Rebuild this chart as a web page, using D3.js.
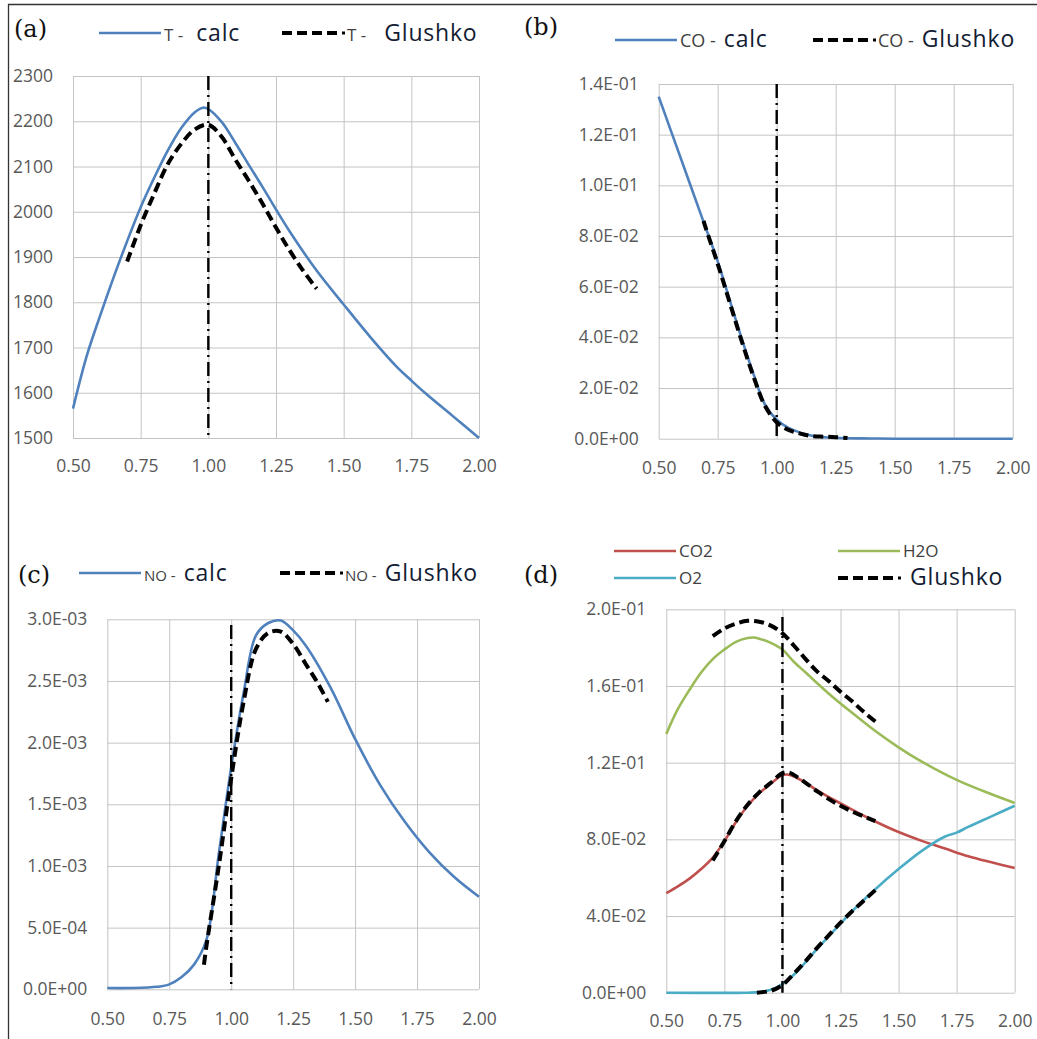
<!DOCTYPE html>
<html>
<head>
<meta charset="utf-8">
<script src="https://cdn.jsdelivr.net/npm/d3@7"></script>
<style>
  body { margin: 0; background: #fff; }
  svg { display: block; }
  .tick text { font-family: "Open Sans", sans-serif; font-size: 17.5px; fill: #595959; }
</style>
</head>
<body>
<script>
// shared x axis (equivalence ratio)
const xTicks = [0.5, 0.75, 1.0, 1.25, 1.5, 1.75, 2.0];

// (a) temperature
const tTicks = [1500, 1600, 1700, 1800, 1900, 2000, 2100, 2200, 2300];
const tCalc = [[0.5,1565],[0.55,1680],[0.6,1770],[0.65,1855],[0.7,1935],[0.75,2010],[0.8,2075],[0.85,2135],
  [0.9,2185],[0.95,2220],[0.98,2230],[1.0,2227],[1.05,2198],[1.1,2152],[1.15,2103],[1.2,2055],[1.25,2005],
  [1.3,1957],[1.4,1870],[1.5,1795],[1.6,1722],[1.7,1655],[1.75,1627],[1.8,1600],[1.9,1550],[2.0,1500]];
const tGlushko = [[0.7,1890],[0.75,1970],[0.8,2040],[0.85,2105],[0.9,2150],[0.95,2182],[1.0,2192],[1.05,2165],
  [1.1,2115],[1.15,2068],[1.2,2018],[1.25,1965],[1.3,1915],[1.35,1870],[1.4,1830]];

// (b) CO
const coTicks = [0, 0.02, 0.04, 0.06, 0.08, 0.10, 0.12, 0.14];
const coCalc = [[0.5,0.135],[0.55,0.122],[0.6,0.109],[0.65,0.096],[0.7,0.083],[0.75,0.070],[0.8,0.055],
  [0.85,0.040],[0.9,0.026],[0.95,0.0135],[1.0,0.0075],[1.05,0.0043],[1.1,0.0024],[1.15,0.0012],[1.2,0.0006],
  [1.3,0.0002],[1.4,0.0001],[1.5,0],[1.75,0],[2.0,0]];
const coGlushko = [[0.69,0.086],[0.7,0.083],[0.75,0.069],[0.8,0.054],[0.85,0.039],[0.9,0.025],[0.95,0.013],
  [1.0,0.0065],[1.05,0.0035],[1.1,0.002],[1.15,0.001],[1.2,0.0008],[1.25,0.0006],[1.3,0.0003]];

// (c) NO
const noTicks = [0, 0.0005, 0.001, 0.0015, 0.002, 0.0025, 0.003];
const noCalc = [[0.5,0.00001],[0.6,0.00001],[0.7,0.00002],[0.75,0.00004],[0.8,0.0001],[0.85,0.0002],
  [0.9,0.0004],[0.95,0.0011],[1.0,0.0018],[1.05,0.0024],[1.1,0.00287],[1.15,0.00297],[1.2,0.00299],
  [1.25,0.00291],[1.3,0.00279],[1.4,0.00245],[1.5,0.00203],[1.6,0.00166],[1.7,0.00136],[1.8,0.00111],
  [1.9,0.00091],[2.0,0.00075]];
const noGlushko = [[0.89,0.0002],[0.9,0.00035],[0.95,0.001],[1.0,0.00171],[1.05,0.00233],[1.1,0.00276],
  [1.15,0.00289],[1.2,0.0029],[1.25,0.0028],[1.3,0.00264],[1.35,0.00248],[1.39,0.00233]];

// (d) CO2, H2O, O2
const dTicks = [0, 0.04, 0.08, 0.12, 0.16, 0.20];
const co2Calc = [[0.5,0.052],[0.55,0.0555],[0.6,0.0595],[0.65,0.0645],[0.7,0.0705],[0.75,0.079],[0.8,0.089],
  [0.85,0.0975],[0.9,0.104],[0.95,0.109],[1.0,0.1135],[1.02,0.1138],[1.05,0.1128],[1.1,0.1095],[1.15,0.1055],
  [1.2,0.102],[1.25,0.0988],[1.3,0.0955],[1.4,0.0893],[1.5,0.0838],[1.6,0.0792],[1.7,0.0752],[1.8,0.0712],
  [1.9,0.068],[2.0,0.065]];
const h2oCalc = [[0.5,0.135],[0.55,0.148],[0.6,0.158],[0.65,0.167],[0.7,0.174],[0.75,0.179],[0.8,0.183],
  [0.85,0.185],[0.875,0.1853],[0.9,0.1847],[0.95,0.1825],[1.0,0.179],[1.05,0.1725],[1.1,0.167],[1.2,0.156],
  [1.3,0.146],[1.4,0.1365],[1.5,0.128],[1.6,0.1205],[1.75,0.111],[1.9,0.1035],[2.0,0.099]];
const o2Calc = [[0.5,0],[0.85,0],[0.9,0.0003],[0.95,0.0015],[1.0,0.0045],[1.05,0.0095],[1.1,0.016],
  [1.15,0.023],[1.2,0.0295],[1.25,0.036],[1.3,0.0425],[1.4,0.054],[1.5,0.0645],[1.6,0.074],[1.7,0.0815],
  [1.75,0.0835],[1.8,0.0865],[1.9,0.092],[2.0,0.0975]];
const h2oGlushko = [[0.7,0.186],[0.75,0.19],[0.8,0.1925],[0.85,0.194],[0.9,0.1935],[0.95,0.1915],[1.0,0.1875],
  [1.05,0.181],[1.1,0.174],[1.15,0.1675],[1.2,0.1625],[1.25,0.157],[1.3,0.152],[1.35,0.1465],[1.4,0.1415]];
const co2Glushko = [[0.7,0.069],[0.75,0.079],[0.8,0.0895],[0.85,0.098],[0.9,0.1045],[0.95,0.1095],[1.0,0.1145],
  [1.03,0.1148],[1.05,0.1135],[1.1,0.1095],[1.15,0.105],[1.2,0.101],[1.25,0.0975],[1.3,0.0945],[1.35,0.092],
  [1.4,0.0895]];
const o2Glushko = [[0.89,0],[0.95,0.001],[1.0,0.004],[1.05,0.01],[1.1,0.0165],[1.15,0.0235],[1.2,0.03],
  [1.25,0.0365],[1.3,0.0425],[1.35,0.048],[1.4,0.0535]];

const BLUE = '#4f81bd', RED = '#c0504d', GREEN = '#9bbb59', TEAL = '#4bacc6';

let fmtE = (v) => {
    let [m, e] = v.toExponential(1).split('e');
    return m + 'E' + e[0] + e.slice(1).padStart(2, '0');
};

const svg = d3.select('body').append('svg')
    .attr('width', 1037).attr('height', 1039);

svg.append('rect').attr('width', 1037).attr('height', 1039).attr('fill', '#fff');

// frame (top and left only)
svg.append('path')
    .attr('d', 'M8.5,1039 V4.5 H1037')
    .attr('fill', 'none').attr('stroke', '#333').attr('stroke-width', 1.3);

let drawPanel = (cfg) => {
    let g = svg.append('g');
    let x = d3.scaleLinear().domain([0.5, 2]).range([cfg.x0, cfg.x1]);
    let y = d3.scaleLinear().domain([cfg.yTicks[0], cfg.yTicks[cfg.yTicks.length - 1]]).range([cfg.y1, cfg.y0]);

    // x grid + labels
    g.append('g')
        .attr('transform', `translate(0,${cfg.y1})`)
        .call(d3.axisBottom(x).tickValues(xTicks).tickFormat(d3.format('.2f'))
            .tickSize(-(cfg.y1 - cfg.y0)).tickPadding(cfg.xPad))
        .call(a => a.select('.domain').remove())
        .call(a => a.selectAll('line').attr('stroke', '#c4c4c4'));

    // y grid + labels
    g.append('g')
        .attr('transform', `translate(${cfg.x0},0)`)
        .call(d3.axisLeft(y).tickValues(cfg.yTicks).tickFormat(cfg.fmt)
            .tickSize(-(cfg.x1 - cfg.x0)).tickPadding(20))
        .call(a => a.select('.domain').remove())
        .call(a => a.selectAll('line').attr('stroke', '#c4c4c4'));

    let line = d3.line().x(d => x(d[0])).y(d => y(d[1])).curve(d3.curveCatmullRom.alpha(0.5));

    cfg.calc.forEach((s) => {
        g.append('path').datum(s.data)
            .attr('d', line).attr('fill', 'none')
            .attr('stroke', s.color).attr('stroke-width', 2.6);
    });

    cfg.glushko.forEach((s) => {
        g.append('path').datum(s)
            .attr('d', line).attr('fill', 'none')
            .attr('stroke', '#000').attr('stroke-width', 4)
            .attr('stroke-dasharray', '10,5');
    });

    // stoichiometric marker at 1.00
    g.append('line')
        .attr('x1', x(1)).attr('x2', x(1))
        .attr('y1', cfg.vTop).attr('y2', cfg.y1)
        .attr('stroke', '#000').attr('stroke-width', 2.4)
        .attr('stroke-dasharray', '14,5,2,5');

    // panel label
    g.append('text')
        .attr('x', cfg.label[0]).attr('y', cfg.label[1])
        .style('font-family', '"DejaVu Serif", serif').style('font-size', '24px')
        .attr('fill', '#111')
        .text(cfg.label[2]);

    // legend
    cfg.legend.forEach((item) => {
        let lg = g.append('g').attr('transform', `translate(${item.x},${item.y})`);
        if (item.dashed) {
            lg.append('line').attr('x1', 0).attr('x2', 58).attr('y1', 0).attr('y2', 0)
                .attr('stroke', '#000').attr('stroke-width', 4).attr('stroke-dasharray', '10,5');
            lg.append('rect').attr('x', 60).attr('y', -1.5).attr('width', 3).attr('height', 3).attr('fill', '#000');
        } else {
            lg.append('line').attr('x1', 0).attr('x2', 62).attr('y1', 0).attr('y2', 0)
                .attr('stroke', item.color).attr('stroke-width', 2.6);
        }
        let t = lg.append('text').attr('x', 65).attr('y', item.dy);
        if (item.small) {
            t.append('tspan').style('font-family', '"Open Sans", sans-serif')
                .style('font-size', item.smallSize + 'px').attr('fill', '#404040')
                .text(item.small);
        }
        if (item.big) {
            t.append('tspan').attr('dx', item.gap)
                .style('font-family', '"Open Sans", sans-serif').style('font-size', '23px')
                .style('letter-spacing', '0.8px').attr('fill', '#131c33')
                .text(item.big);
        }
    });
};

drawPanel({
    x0: 73, x1: 479, y0: 76, y1: 438, xPad: 22, vTop: 76,
    yTicks: tTicks, fmt: d3.format('d'),
    calc: [{ data: tCalc, color: BLUE }],
    glushko: [tGlushko],
    label: [14, 37, '(a)'],
    legend: [
        { x: 99, y: 33, color: BLUE, small: 'T -', smallSize: 17, big: 'calc', gap: 13, dy: 8 },
        { x: 282, y: 33, dashed: true, small: 'T -', smallSize: 17, big: 'Glushko', gap: 18, dy: 8 }
    ]
});

drawPanel({
    x0: 658.7, x1: 1012.7, y0: 84, y1: 438.7, xPad: 23, vTop: 84,
    yTicks: coTicks, fmt: fmtE,
    calc: [{ data: coCalc, color: BLUE }],
    glushko: [coGlushko],
    label: [524, 35, '(b)'],
    legend: [
        { x: 615, y: 40, color: BLUE, small: 'CO -', smallSize: 18, big: 'calc', gap: 8, dy: 7 },
        { x: 813, y: 40, dashed: true, small: 'CO -', smallSize: 18, big: 'Glushko', gap: 8, dy: 7 }
    ]
});

drawPanel({
    x0: 107.3, x1: 479, y0: 619.3, y1: 989.3, xPad: 23, vTop: 625,
    yTicks: noTicks, fmt: fmtE,
    calc: [{ data: noCalc, color: BLUE }],
    glushko: [noGlushko],
    label: [18, 583, '(c)'],
    legend: [
        { x: 79, y: 573, color: BLUE, small: 'NO -', smallSize: 15, big: 'calc', gap: 8, dy: 8 },
        { x: 280, y: 573, dashed: true, small: 'NO -', smallSize: 15, big: 'Glushko', gap: 8, dy: 8 }
    ]
});

drawPanel({
    x0: 666.3, x1: 1014.7, y0: 609.3, y1: 992.7, xPad: 22, vTop: 617,
    yTicks: dTicks, fmt: fmtE,
    calc: [{ data: co2Calc, color: RED }, { data: h2oCalc, color: GREEN }, { data: o2Calc, color: TEAL }],
    glushko: [h2oGlushko, co2Glushko, o2Glushko],
    label: [524, 583, '(d)'],
    legend: [
        { x: 614, y: 551, color: RED, small: 'CO2', smallSize: 17, dy: 6 },
        { x: 838, y: 551, color: GREEN, small: 'H2O', smallSize: 17, dy: 6 },
        { x: 614, y: 578, color: TEAL, small: 'O2', smallSize: 17, dy: 6 },
        { x: 838, y: 578, dashed: true, big: 'Glushko', gap: 7, dy: 7 }
    ]
});
</script>
</body>
</html>
